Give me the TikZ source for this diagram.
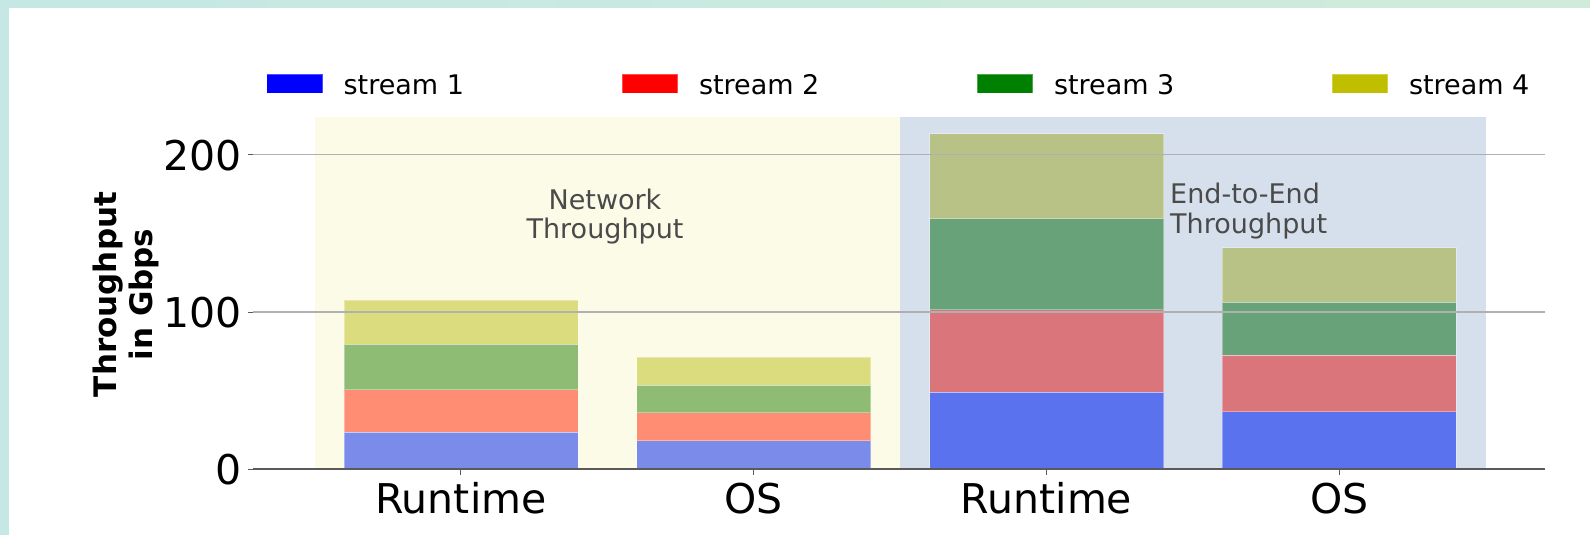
\documentclass[tikz,border=0pt]{standalone}
\usepackage{fontspec}
\setmainfont{DejaVu Sans}
\definecolor{tealA}{HTML}{C5E8E4}
\definecolor{tealB}{HTML}{D0EBDA}
\definecolor{bgY}{HTML}{FBFBE7}
\definecolor{bgB}{HTML}{D6E0EC}
\definecolor{yBlue}{HTML}{7B8BEA}
\definecolor{yRed}{HTML}{FF8D74}
\definecolor{yGreen}{HTML}{8FBC74}
\definecolor{yYel}{HTML}{DBDC7E}
\definecolor{bBlue}{HTML}{5A72EE}
\definecolor{bRed}{HTML}{DB757C}
\definecolor{bGreen}{HTML}{67A279}
\definecolor{bYel}{HTML}{B8C287}
\definecolor{lBlue}{HTML}{0000FF}
\definecolor{lRed}{HTML}{FF0000}
\definecolor{lGreen}{HTML}{008000}
\definecolor{lYel}{HTML}{BFBF00}
\definecolor{gridc}{HTML}{B0B0B0}
\definecolor{axisc}{HTML}{5A5A5A}
\definecolor{annc}{HTML}{4A4A4A}
\newcommand{\seg}[4]{\filldraw[fill=#4,draw=white,draw opacity=0.35,line width=0.8] ({#1-117},{469.3-1.573*(#2)}) rectangle ({#1+117},{469.3-1.573*(#3)});}
\tikzset{
  ticklab/.style={inner sep=0pt,font=\fontsize{41}{49}\selectfont},
  legtext/.style={inner sep=0pt,anchor=base west,font=\fontsize{27}{32}\selectfont},
  legpatch/.style={draw=white,draw opacity=0.3,line width=0.8},
  ann/.style={inner sep=0pt,text=annc,font=\fontsize{27}{29.5}\selectfont},
}
\begin{document}
\begin{tikzpicture}[x=1pt,y=-1pt]
\useasboundingbox (0,0) rectangle (1590,535);
\fill[white] (0,0) rectangle (1590,535);
\shade[left color=tealA,right color=tealB] (0,0) rectangle (1590,8);
\fill[tealA] (0,0) rectangle (9,535);
% backgrounds
\fill[bgY] (314.5,117.3) rectangle (900.1,469.3);
\fill[bgB] (900.1,117.3) rectangle (1485.7,469.3);
% bar 1 (Runtime, network)
\seg{460.9}{0}{23.4}{yBlue}
\seg{460.9}{23.4}{50.7}{yRed}
\seg{460.9}{50.7}{79.5}{yGreen}
\seg{460.9}{79.5}{107.5}{yYel}
% bar 2 (OS, network)
\seg{753.7}{0}{18.1}{yBlue}
\seg{753.7}{18.1}{36.1}{yRed}
\seg{753.7}{36.1}{53.6}{yGreen}
\seg{753.7}{53.6}{71.3}{yYel}
% bar 3 (Runtime, end-to-end)
\seg{1046.5}{0}{48.9}{bBlue}
\seg{1046.5}{48.9}{101.4}{bRed}
\seg{1046.5}{101.4}{159.2}{bGreen}
\seg{1046.5}{159.2}{213.3}{bYel}
% bar 4 (OS, end-to-end)
\seg{1339.3}{0}{36.7}{bBlue}
\seg{1339.3}{36.7}{72.5}{bRed}
\seg{1339.3}{72.5}{106.4}{bGreen}
\seg{1339.3}{106.4}{141.0}{bYel}
% grid
\draw[gridc,line width=1.3] (253,154.7) -- (1545,154.7);
\draw[gridc,line width=1.3] (253,312.0) -- (1545,312.0);
% axis
\draw[axisc,line width=2] (253,469.3) -- (1545,469.3);
% y ticks
\foreach \yy in {154.7,312.0,469.3} \draw[axisc,line width=1] (248,\yy) -- (253,\yy);
% x ticks
\foreach \xx in {460.9,753.7,1046.5,1339.3} \draw[axisc,line width=1] (\xx,469.3) -- (\xx,475);
% tick labels
\node[ticklab,anchor=east] (t200) at (242,155.3) {200};
\node[ticklab,anchor=east] (t100) at (242,312.6) {100};
\node[ticklab,anchor=east] (t0) at (242,469.9) {0};
\node[ticklab,anchor=base] (xl1) at (460.9,513.3) {Runtime};
\node[ticklab,anchor=base] (xl2) at (753.7,513.3) {OS};
\node[ticklab,anchor=base] (xl3) at (1046.5,513.3) {Runtime};
\node[ticklab,anchor=base] (xl4) at (1339.3,513.3) {OS};
% y label
\node[inner sep=0pt,rotate=90,align=center,font=\fontsize{31}{36}\bfseries\selectfont] (ylab) at (126,294.5) {Throughput\\in Gbps};
% annotations
\node[ann,align=center,anchor=north] (netann) at (605,188.3) {Network\\Throughput};
\node[ann,align=left,anchor=north west] (e2eann) at (1170,182.8) {End-to-End\\Throughput};
% legend
\fill[lBlue,legpatch] (266.6,74) rectangle (322.5,93.3);
\node[legtext] (leg1) at (343.4,94) {stream 1};
\fill[lRed,legpatch] (622,74) rectangle (677.8,93.3);
\node[legtext] (leg2) at (698.8,94) {stream 2};
\fill[lGreen,legpatch] (977,74) rectangle (1032.8,93.3);
\node[legtext] (leg3) at (1053.8,94) {stream 3};
\fill[lYel,legpatch] (1332,74) rectangle (1387.8,93.3);
\node[legtext] (leg4) at (1408.8,94) {stream 4};
\end{tikzpicture}
\end{document}
